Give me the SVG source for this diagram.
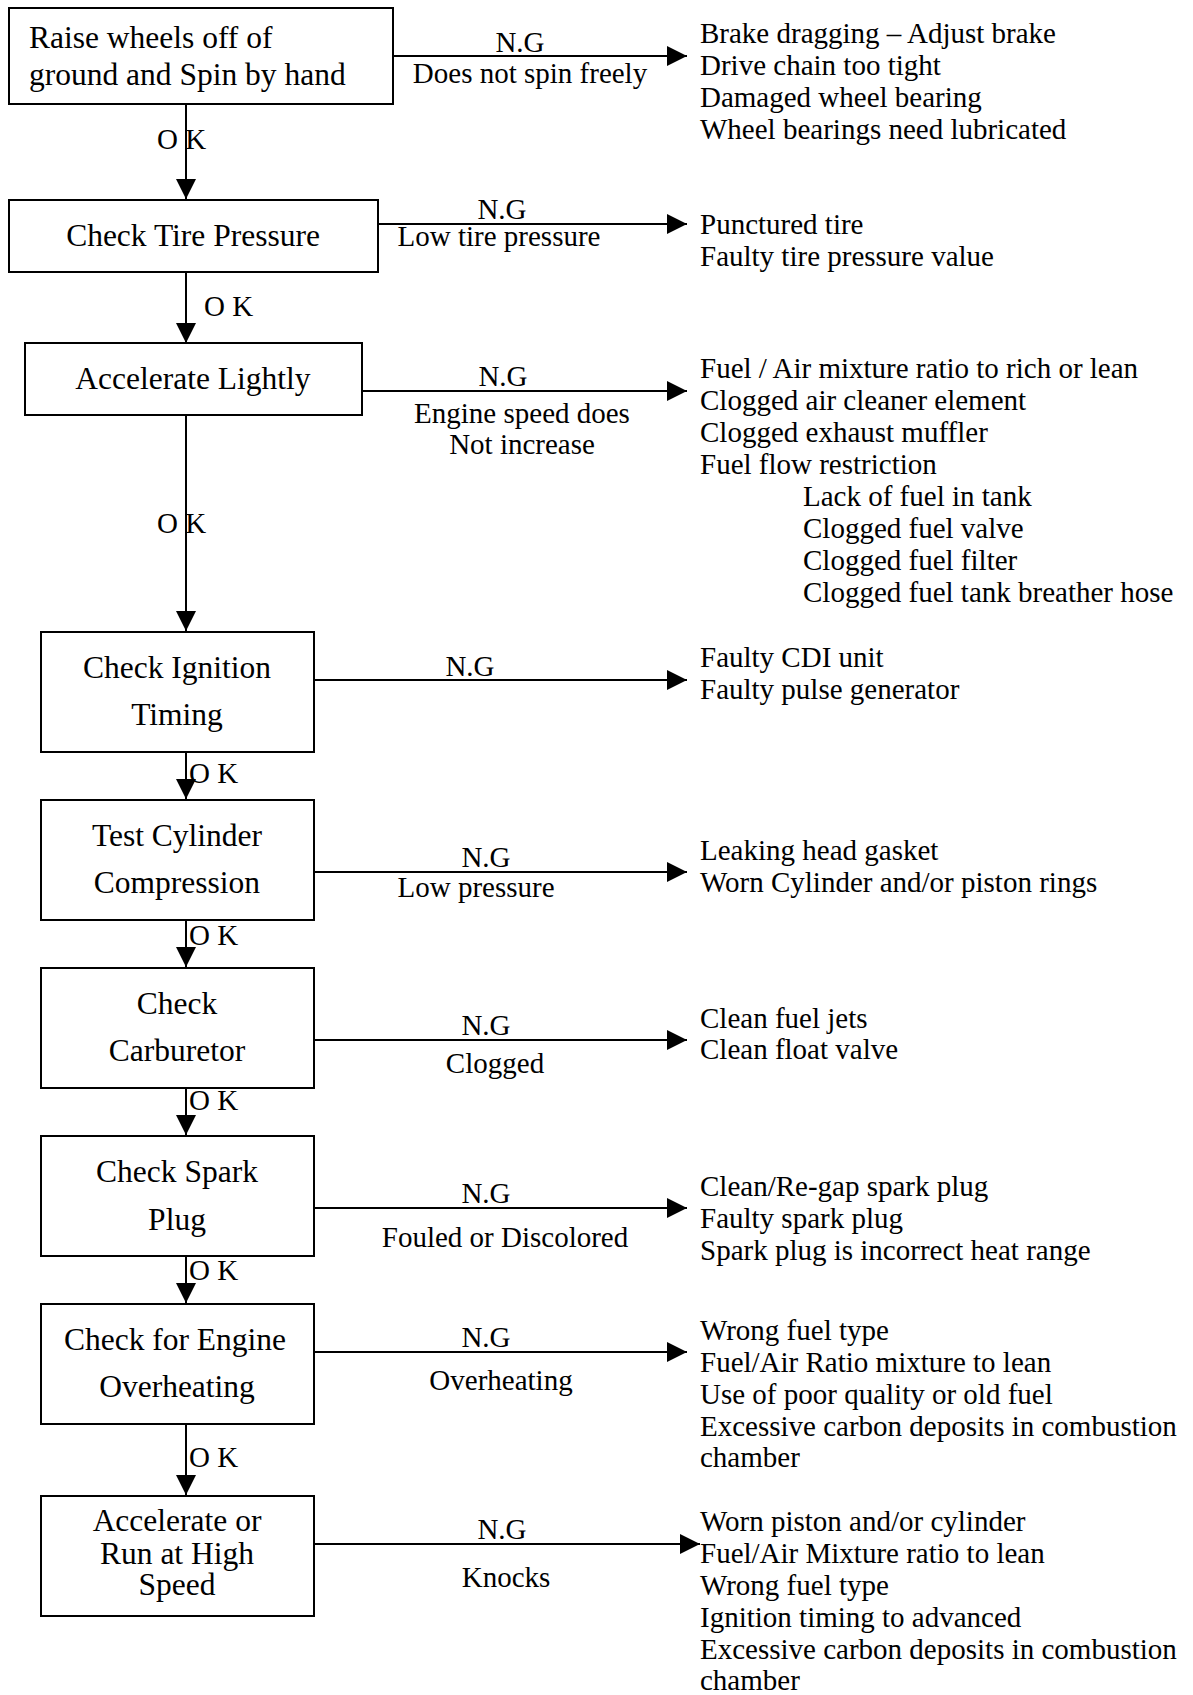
<svg xmlns="http://www.w3.org/2000/svg" width="1193" height="1695" viewBox="0 0 1193 1695">
<style>
text{font-family:"Liberation Serif","Times New Roman",serif;fill:#000}
.bt{font-size:31.5px}
.bc{font-size:31.5px;text-anchor:middle}
.lb{font-size:29px;text-anchor:middle}
.ok{font-size:29px}
.rt{font-size:29px}
rect.box{fill:#fff;stroke:#000;stroke-width:2}
.con line{stroke:#000;stroke-width:2;fill:none}
</style>
<defs>
<marker id="ah" markerUnits="userSpaceOnUse" markerWidth="20" markerHeight="20" refX="20" refY="10" orient="auto">
<path d="M0,0 L20,10 L0,20 z" fill="#000"/>
</marker>
</defs>
<rect width="1193" height="1695" fill="#fff"/>

<g id="connectors" class="con">
<line x1="393" y1="56" x2="687" y2="56" marker-end="url(#ah)"/>
<line x1="378" y1="224" x2="687" y2="224" marker-end="url(#ah)"/>
<line x1="362" y1="391" x2="687" y2="391" marker-end="url(#ah)"/>
<line x1="314" y1="680" x2="687" y2="680" marker-end="url(#ah)"/>
<line x1="314" y1="872" x2="687" y2="872" marker-end="url(#ah)"/>
<line x1="314" y1="1040" x2="687" y2="1040" marker-end="url(#ah)"/>
<line x1="314" y1="1208" x2="687" y2="1208" marker-end="url(#ah)"/>
<line x1="314" y1="1352" x2="687" y2="1352" marker-end="url(#ah)"/>
<line x1="314" y1="1544" x2="700" y2="1544" marker-end="url(#ah)"/>
<line x1="186" y1="104" x2="186" y2="199" marker-end="url(#ah)"/>
<line x1="186" y1="272" x2="186" y2="343" marker-end="url(#ah)"/>
<line x1="186" y1="415" x2="186" y2="631" marker-end="url(#ah)"/>
<line x1="186" y1="752" x2="186" y2="799" marker-end="url(#ah)"/>
<line x1="186" y1="920" x2="186" y2="967" marker-end="url(#ah)"/>
<line x1="186" y1="1088" x2="186" y2="1135" marker-end="url(#ah)"/>
<line x1="186" y1="1256" x2="186" y2="1303" marker-end="url(#ah)"/>
<line x1="186" y1="1424" x2="186" y2="1495" marker-end="url(#ah)"/>
<text class="lb" x="520" y="52">N.G</text>
<text class="lb" x="530" y="83">Does not spin freely</text>
<text class="lb" x="502" y="219">N.G</text>
<text class="lb" x="499" y="246">Low tire pressure</text>
<text class="lb" x="503" y="386">N.G</text>
<text class="lb" x="522" y="423">Engine speed does</text>
<text class="lb" x="522" y="454">Not increase</text>
<text class="lb" x="470" y="676">N.G</text>
<text class="lb" x="486" y="867">N.G</text>
<text class="lb" x="476" y="897">Low pressure</text>
<text class="lb" x="486" y="1035">N.G</text>
<text class="lb" x="495" y="1073">Clogged</text>
<text class="lb" x="486" y="1203">N.G</text>
<text class="lb" x="505" y="1247">Fouled or Discolored</text>
<text class="lb" x="486" y="1347">N.G</text>
<text class="lb" x="501" y="1390">Overheating</text>
<text class="lb" x="502" y="1539">N.G</text>
<text class="lb" x="506" y="1587">Knocks</text>
<text class="ok" x="157" y="149">O K</text>
<text class="ok" x="204" y="316">O K</text>
<text class="ok" x="157" y="533">O K</text>
<text class="ok" x="189" y="783">O K</text>
<text class="ok" x="189" y="945">O K</text>
<text class="ok" x="189" y="1110">O K</text>
<text class="ok" x="189" y="1280">O K</text>
<text class="ok" x="189" y="1467">O K</text>
</g>

<g id="n1">
<rect class="box" x="9" y="8" width="384" height="96"/>
<text class="bt" x="29" y="48">Raise wheels off of</text>
<text class="bt" x="29" y="85">ground and Spin by hand</text>
</g>
<g id="n2">
<rect class="box" x="9" y="200" width="369" height="72"/>
<text class="bc" x="193" y="246">Check Tire Pressure</text>
</g>
<g id="n3">
<rect class="box" x="25" y="343" width="337" height="72"/>
<text class="bc" x="193" y="389">Accelerate Lightly</text>
</g>
<g id="n4">
<rect class="box" x="41" y="632" width="273" height="120"/>
<text class="bc" x="177" y="678">Check Ignition</text>
<text class="bc" x="177" y="725">Timing</text>
</g>
<g id="n5">
<rect class="box" x="41" y="800" width="273" height="120"/>
<text class="bc" x="177" y="846">Test Cylinder</text>
<text class="bc" x="177" y="893">Compression</text>
</g>
<g id="n6">
<rect class="box" x="41" y="968" width="273" height="120"/>
<text class="bc" x="177" y="1014">Check</text>
<text class="bc" x="177" y="1061">Carburetor</text>
</g>
<g id="n7">
<rect class="box" x="41" y="1136" width="273" height="120"/>
<text class="bc" x="177" y="1182">Check Spark</text>
<text class="bc" x="177" y="1230">Plug</text>
</g>
<g id="n8">
<rect class="box" x="41" y="1304" width="273" height="120"/>
<text class="bc" x="175" y="1350">Check for Engine</text>
<text class="bc" x="177" y="1397">Overheating</text>
</g>
<g id="n9">
<rect class="box" x="41" y="1496" width="273" height="120"/>
<text class="bc" x="177" y="1531">Accelerate or</text>
<text class="bc" x="177" y="1564">Run at High</text>
<text class="bc" x="177" y="1595">Speed</text>
</g>

<g id="r1" class="rt">
<text class="rt" x="700" y="43">Brake dragging – Adjust brake</text>
<text class="rt" x="700" y="75">Drive chain too tight</text>
<text class="rt" x="700" y="107">Damaged wheel bearing</text>
<text class="rt" x="700" y="139">Wheel bearings need lubricated</text>
</g>
<g id="r2">
<text class="rt" x="700" y="234">Punctured tire</text>
<text class="rt" x="700" y="266">Faulty tire pressure value</text>
</g>
<g id="r3">
<text class="rt" x="700" y="378">Fuel / Air mixture ratio to rich or lean</text>
<text class="rt" x="700" y="410">Clogged air cleaner element</text>
<text class="rt" x="700" y="442">Clogged exhaust muffler</text>
<text class="rt" x="700" y="474">Fuel flow restriction</text>
<text class="rt" x="803" y="506">Lack of fuel in tank</text>
<text class="rt" x="803" y="538">Clogged fuel valve</text>
<text class="rt" x="803" y="570">Clogged fuel filter</text>
<text class="rt" x="803" y="602">Clogged fuel tank breather hose</text>
</g>
<g id="r4">
<text class="rt" x="700" y="667">Faulty CDI unit</text>
<text class="rt" x="700" y="699">Faulty pulse generator</text>
</g>
<g id="r5">
<text class="rt" x="700" y="860">Leaking head gasket</text>
<text class="rt" x="700" y="892">Worn Cylinder and/or piston rings</text>
</g>
<g id="r6">
<text class="rt" x="700" y="1028">Clean fuel jets</text>
<text class="rt" x="700" y="1059">Clean float valve</text>
</g>
<g id="r7">
<text class="rt" x="700" y="1196">Clean/Re-gap spark plug</text>
<text class="rt" x="700" y="1228">Faulty spark plug</text>
<text class="rt" x="700" y="1260">Spark plug is incorrect heat range</text>
</g>
<g id="r8">
<text class="rt" x="700" y="1340">Wrong fuel type</text>
<text class="rt" x="700" y="1372">Fuel/Air Ratio mixture to lean</text>
<text class="rt" x="700" y="1404">Use of poor quality or old fuel</text>
<text class="rt" x="700" y="1436">Excessive carbon deposits in combustion</text>
<text class="rt" x="700" y="1467">chamber</text>
</g>
<g id="r9">
<text class="rt" x="700" y="1531">Worn piston and/or cylinder</text>
<text class="rt" x="700" y="1563">Fuel/Air Mixture ratio to lean</text>
<text class="rt" x="700" y="1595">Wrong fuel type</text>
<text class="rt" x="700" y="1627">Ignition timing to advanced</text>
<text class="rt" x="700" y="1659">Excessive carbon deposits in combustion</text>
<text class="rt" x="700" y="1690">chamber</text>
</g>
</svg>
